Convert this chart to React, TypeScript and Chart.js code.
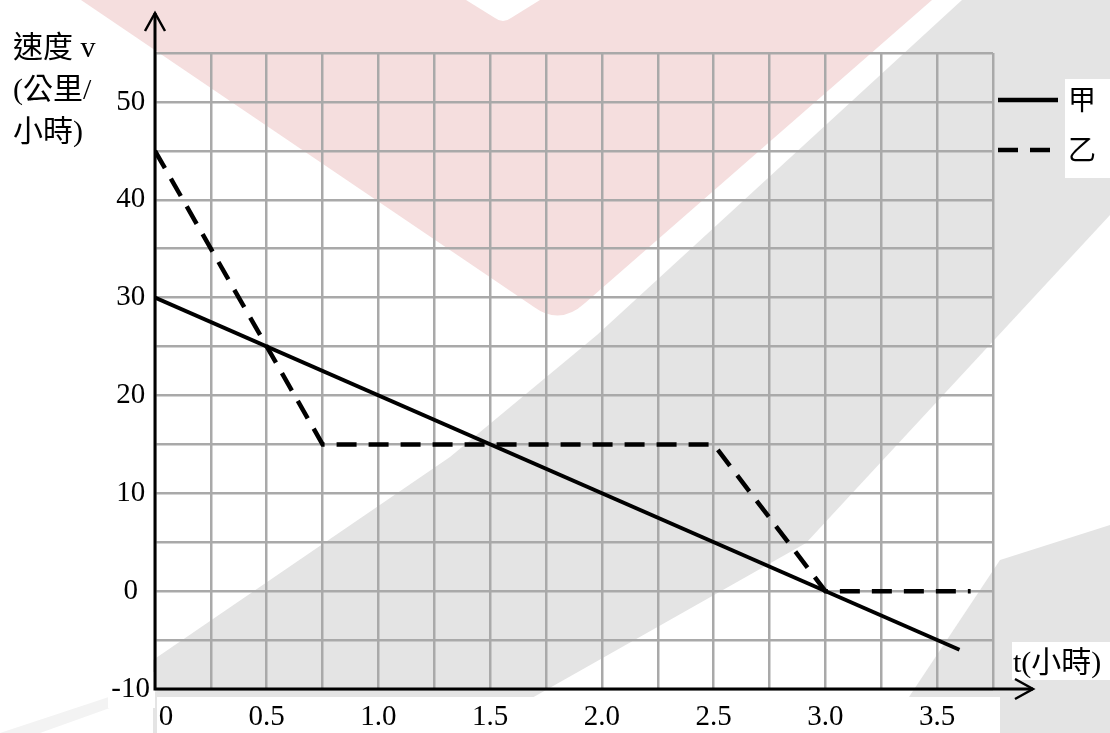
import React, { useEffect, useRef } from 'react';
import { Chart, registerables } from 'chart.js';

Chart.register(...registerables);

// ---- data ----
const seriesNames = ['甲', '乙'];
const jiaT = [0, 3.6];
const jiaV = [30, -6];
const yiT = [0, 0.75, 2.5, 3.0, 3.65];
const yiV = [45, 15, 15, 0, 0];
const xTickValues = [0, 0.5, 1, 1.5, 2, 2.5, 3, 3.5];
const xTickLabels = ['0', '0.5', '1.0', '1.5', '2.0', '2.5', '3.0', '3.5'];
const yTickValues = [-10, 0, 10, 20, 30, 40, 50];
const yTickLabels = ['-10', '0', '10', '20', '30', '40', '50'];
const yTitleLines = ['速度 v', '(公里/', '小時)'];
const xTitle = 't(小時)';

const FONT = "'Liberation Serif', 'Noto Sans CJK TC', serif";
const PINK = '#f5dede';
const GRAY = '#e4e4e4';

function poly(ctx: CanvasRenderingContext2D, pts: number[][], color: string) {
  ctx.beginPath();
  ctx.moveTo(pts[0][0], pts[0][1]);
  for (let i = 1; i < pts.length; i++) ctx.lineTo(pts[i][0], pts[i][1]);
  ctx.closePath();
  ctx.fillStyle = color;
  ctx.fill();
}

const decorPlugin = {
  id: 'decor',
  beforeDraw(chart: any) {
    const ctx: CanvasRenderingContext2D = chart.ctx;
    const W = chart.width;
    const H = chart.height;
    ctx.save();
    ctx.fillStyle = '#ffffff';
    ctx.fillRect(0, 0, W, H);
    // watermark: pink triangle with notch
    ctx.beginPath();
    ctx.moveTo(81, 0);
    ctx.lineTo(466, 0);
    ctx.lineTo(495, 18);
    ctx.quadraticCurveTo(503, 24, 511, 18);
    ctx.lineTo(540, 0);
    ctx.lineTo(932, 0);
    ctx.lineTo(585, 303);
    ctx.quadraticCurveTo(560, 326, 534, 307);
    ctx.closePath();
    ctx.fillStyle = PINK;
    ctx.fill();
    // gray bands
    poly(ctx, [[153, 733], [153, 660], [450, 457], [597, 335], [962, 0], [1110, 0], [1110, 215], [806, 543], [470, 733]], GRAY);
    poly(ctx, [[1110, 525], [1110, 733], [885, 733], [1000, 560]], GRAY);
    poly(ctx, [[0, 733], [130, 690], [160, 690], [40, 733]], '#f3f3f3');
    // white boxes behind labels
    ctx.fillStyle = '#ffffff';
    ctx.fillRect(157, 697, 843, 36);
    ctx.fillRect(108, 672, 47, 36);
    ctx.fillRect(1012, 642, 98, 38);
    ctx.fillRect(1065, 79, 45, 99);
    ctx.restore();
  },
  afterDraw(chart: any) {
    const ctx: CanvasRenderingContext2D = chart.ctx;
    const xs = chart.scales.x;
    const ys = chart.scales.y;
    const ca = chart.chartArea;
    const x0 = xs.getPixelForValue(0);
    const yb = ys.getPixelForValue(-10);
    const topTip = ca.top - 40;
    const rightTip = ca.right + 40;
    ctx.save();
    ctx.strokeStyle = '#000';
    ctx.lineWidth = 3;
    ctx.lineCap = 'butt';
    ctx.beginPath();
    ctx.moveTo(x0, yb + 1.5);
    ctx.lineTo(x0, topTip);
    ctx.moveTo(x0 - 1.5, yb);
    ctx.lineTo(rightTip, yb);
    ctx.stroke();
    ctx.lineWidth = 2.5;
    ctx.beginPath();
    ctx.moveTo(x0 - 10, topTip + 18);
    ctx.lineTo(x0, topTip);
    ctx.lineTo(x0 + 10, topTip + 18);
    ctx.moveTo(rightTip - 18, yb - 10);
    ctx.lineTo(rightTip, yb);
    ctx.lineTo(rightTip - 18, yb + 10);
    ctx.stroke();

    // titles
    ctx.fillStyle = '#000';
    ctx.textBaseline = 'middle';
    ctx.textAlign = 'left';
    ctx.font = `30px ${FONT}`;
    const tY = [49, 91, 133];
    yTitleLines.forEach((s, i) => ctx.fillText(s, 13, tY[i]));
    ctx.font = `30px ${FONT}`;
    ctx.fillText(xTitle, 1013, 664);

    // legend
    const ds = chart.data.datasets;
    const ly = [100, 150];
    ds.forEach((d: any, i: number) => {
      ctx.strokeStyle = d.borderColor;
      ctx.lineWidth = 4.5;
      ctx.setLineDash(d.borderDash || []);
      ctx.beginPath();
      ctx.moveTo(998, ly[i]);
      ctx.lineTo(1058, ly[i]);
      ctx.stroke();
      ctx.setLineDash([]);
      ctx.font = `28px ${FONT}`;
      ctx.fillStyle = '#000';
      ctx.fillText(d.label, 1068, ly[i] + 3);
    });
    ctx.restore();
  },
};

export default function App() {
  const ref = useRef<HTMLCanvasElement | null>(null);
  useEffect(() => {
    document.body.style.margin = '0';
    if (!ref.current) return;
    const chart = new Chart(ref.current, {
      type: 'line',
      data: {
        datasets: [
          {
            label: seriesNames[0],
            data: jiaT.map((t, i) => ({ x: t, y: jiaV[i] })),
            borderColor: '#000',
            borderWidth: 3.8,
            pointRadius: 0,
            fill: false,
            tension: 0,
          },
          {
            label: seriesNames[1],
            data: yiT.map((t, i) => ({ x: t, y: yiV[i] })),
            borderColor: '#000',
            borderWidth: 4.5,
            borderDash: [20, 12],
            pointRadius: 0,
            fill: false,
            tension: 0,
          },
        ],
      },
      options: {
        responsive: false,
        animation: false,
        layout: { padding: { left: 0, top: 53, right: 117, bottom: 0 } },
        plugins: { legend: { display: false }, tooltip: { enabled: false } },
        scales: {
          x: {
            type: 'linear',
            min: 0,
            max: 3.75,
            afterFit: (s: any) => { s.height = 44; },
            border: { display: false },
            grid: { color: '#a9a9a9', lineWidth: 2.5, drawTicks: false },
            ticks: {
              stepSize: 0.25,
              autoSkip: false,
              maxRotation: 0,
              padding: 11,
              color: '#000',
              font: { family: FONT, size: 29 },
              callback: (v: any) => {
                const i = xTickValues.findIndex((t) => Math.abs(t - Number(v)) < 1e-6);
                if (i < 0) return '';
                return i === 0 ? '   ' + xTickLabels[i] : xTickLabels[i];
              },
            },
          },
          y: {
            type: 'linear',
            min: -10,
            max: 55,
            afterFit: (s: any) => { s.width = 155; },
            border: { display: false },
            grid: { color: '#a9a9a9', lineWidth: 2.5, drawTicks: false },
            ticks: {
              stepSize: 5,
              autoSkip: false,
              padding: 5,
              crossAlign: 'center',
              color: '#000',
              font: { family: FONT, size: 29 },
              callback: (v: any) => {
                const i = yTickValues.findIndex((t) => Math.abs(t - Number(v)) < 1e-6);
                return i < 0 ? '' : yTickLabels[i];
              },
            },
          },
        },
      },
      plugins: [decorPlugin],
    } as any);
    return () => chart.destroy();
  }, []);
  return (
    <div style={{ width: 1110, height: 733 }}>
      <canvas ref={ref} width={1110} height={733} style={{ display: 'block' }} />
    </div>
  );
}
